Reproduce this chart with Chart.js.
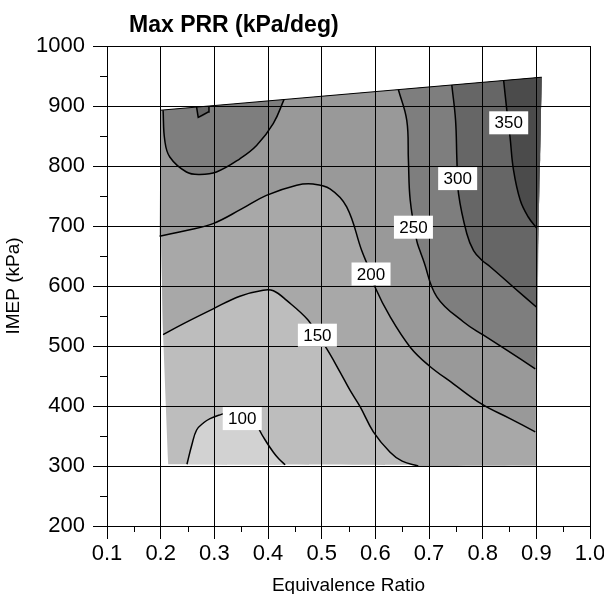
<!DOCTYPE html>
<html>
<head>
<meta charset="utf-8">
<script src="https://cdn.jsdelivr.net/npm/chart.js@4.4.1/dist/chart.umd.min.js"></script>
<style>
  html, body { margin: 0; padding: 0; background: #fff; overflow: hidden; }
  canvas { display: block; }
</style>
</head>
<body>
<canvas id="c" width="604" height="594"></canvas>
<script>
const FONT = '"Liberation Sans", Arial, sans-serif';

// ── data ────────────────────────────────────────────────────────────────────
const xTicks = [0.1, 0.2, 0.3, 0.4, 0.5, 0.6, 0.7, 0.8, 0.9, 1.0];
const yTicks = [200, 300, 400, 500, 600, 700, 800, 900, 1000];
const xMinor = [0.15, 0.25, 0.35, 0.45, 0.55, 0.65, 0.75, 0.85, 0.95];
const yMinor = [250, 350, 450, 550, 650, 750, 850, 950];

// measured region outline: 0 top-left, 1 top-right, 2-3 right edge, 4 bottom-right, 5 bottom-left, 6-7 left edge
const domainX = [0.2, 0.91, 0.907, 0.904, 0.9, 0.214, 0.2045, 0.2015];
const domainY = [893, 948, 810, 696, 301, 303, 519, 654];

// contour lines (Max PRR, kPa/deg)
const c100x = [0.249, 0.258, 0.267, 0.28, 0.292, 0.313, 0.335, 0.355, 0.372, 0.384, 0.397, 0.41, 0.42, 0.432];
const c100y = [303, 335, 360, 372, 379, 386, 392, 393, 385, 360, 340, 323, 312, 302];
const c150x = [0.2045, 0.2418, 0.2978, 0.3476, 0.391, 0.41, 0.4347, 0.475, 0.49, 0.509, 0.534, 0.553, 0.5716, 0.5963, 0.6275, 0.65, 0.68];
const c150y = [519, 537, 562, 583, 593, 592, 576, 543, 520, 496, 457, 426, 399, 357, 323, 308, 300];
const c200x = [0.198, 0.25, 0.2976, 0.35, 0.397, 0.4535, 0.484, 0.5155, 0.5466, 0.5746, 0.59, 0.5995, 0.628, 0.665, 0.699, 0.7455, 0.7985, 0.851, 0.898];
const c200y = [683, 693, 704, 728, 751, 768, 770, 762, 732, 659, 625, 598, 548, 498, 468, 437, 403, 379, 357];
const c250x = [0.643, 0.6586, 0.6616, 0.665, 0.677, 0.683, 0.6895, 0.7146, 0.7644, 0.8016, 0.845, 0.898];
const c250y = [927, 876, 810, 743, 676, 659, 643, 582, 540, 518, 493, 462];
const c250bx = [0.2045, 0.2076, 0.217, 0.248, 0.273, 0.304, 0.3476, 0.3787, 0.41, 0.43];
const c250by = [893, 843, 815, 790, 786, 790, 812, 834, 871, 911];
const c300x = [0.7425, 0.7495, 0.752, 0.755, 0.7705, 0.783, 0.7985, 0.814, 0.8575, 0.9];
const c300y = [935, 876, 810, 754, 687, 659, 643, 632, 598, 565];
const c300bx = [0.2668, 0.27, 0.2885, 0.29];
const c300by = [899, 881, 890, 900];
const c350x = [0.839, 0.845, 0.851, 0.8575, 0.87, 0.885, 0.901];
const c350y = [943, 893, 848, 793, 743, 715, 696];
const topEdgeX = [0.2, 0.91];
const topEdgeY = [893, 948];

// contour labels
const labelText = ['100', '150', '200', '250', '300', '350'];
const labelX = [0.352, 0.492, 0.592, 0.671, 0.7534, 0.8485];
const labelY = [379, 518, 620, 698, 779, 872];

// fill shades, lightest to darkest
const shadeBelow100 = '#d2d2d2';
const shade100 = '#bdbdbd';
const shade150 = '#a8a8a8';
const shade200 = '#999999';
const shade250 = '#7e7e7e';
const shade300 = '#666666';
const shade350 = '#4b4b4b';

// ── helpers ─────────────────────────────────────────────────────────────────
const pts = (xs, ys) => xs.map((x, i) => ({ x, y: ys[i] }));
// doubled points keep the spline straight at corners
const corner = (p) => [p, { ...p }];
const edge = (idx) => idx.flatMap((i) => corner({ x: domainX[i], y: domainY[i] }));
function region(cx, cy, idx) {
    const c = pts(cx, cy);
    return [...corner(c[0]), ...c.slice(1, -1), ...corner(c[c.length - 1]), ...edge(idx)];
}

const fillSet = (data, color, order) => ({
    data, order, fill: 'shape', backgroundColor: color,
    borderColor: 'rgba(0,0,0,0)', borderWidth: 0, pointRadius: 0, tension: 0.4,
});
const lineSet = (xs, ys, width = 1.5, tension = 0.4) => ({
    data: pts(xs, ys), order: 0, fill: false, borderColor: '#000',
    borderWidth: width, pointRadius: 0, tension,
});

const datasets = [
    fillSet(edge([0, 1, 2, 3, 4, 5, 6, 7]), shade100, 100),
    fillSet(region(c100x, c100y, []), shadeBelow100, 90),
    fillSet(region(c150x, c150y, [4, 3, 2, 1, 0, 7]), shade150, 80),
    fillSet(region(c200x, c200y, [3, 2, 1, 0]), shade200, 70),
    fillSet(region(c250x, c250y, [3, 2, 1]), shade250, 60),
    fillSet(region(c250bx, c250by, []), shade250, 60),
    fillSet(region(c300x, c300y, [3, 2, 1]), shade300, 50),
    fillSet(edge([]).concat(pts(c300bx, c300by)), shade300, 50),
    fillSet(region(c350x, c350y, [2, 1]), shade350, 40),
    lineSet(c100x, c100y),
    lineSet(c150x, c150y),
    lineSet(c200x, c200y),
    lineSet(c250x, c250y),
    lineSet(c250bx, c250by),
    lineSet(c300x, c300y),
    lineSet(c300bx, c300by, 1.5, 0),
    lineSet(c350x, c350y),
    lineSet(topEdgeX, topEdgeY, 1, 0),
];

// grid on top of the shading, minor ticks, boxed contour labels, title
const overlay = {
    id: 'overlay',
    afterDatasetsDraw(chart) {
        const { ctx, chartArea: a, scales: { x, y } } = chart;
        x.drawGrid(a);
        y.drawGrid(a);
        ctx.save();
        ctx.strokeStyle = '#000';
        ctx.lineWidth = 1;
        ctx.beginPath();
        xMinor.forEach((v) => {
            const px = Math.round(x.getPixelForValue(v)) + 0.5;
            ctx.moveTo(px, a.bottom);
            ctx.lineTo(px, a.bottom + 6);
        });
        yMinor.forEach((v) => {
            const py = Math.round(y.getPixelForValue(v)) + 0.5;
            ctx.moveTo(a.left - 7, py);
            ctx.lineTo(a.left, py);
        });
        ctx.stroke();

        ctx.font = '17px ' + FONT;
        ctx.textAlign = 'center';
        ctx.textBaseline = 'middle';
        labelText.forEach((t, i) => {
            const px = x.getPixelForValue(labelX[i]);
            const py = y.getPixelForValue(labelY[i]);
            ctx.fillStyle = '#fff';
            ctx.fillRect(px - 19.5, py - 11.5, 39, 23);
            ctx.fillStyle = '#000';
            ctx.fillText(t, px, py + 1);
        });
        ctx.restore();
    },
    afterDraw(chart) {
        const { ctx, chartArea: a } = chart;
        ctx.save();
        ctx.font = 'bold 23px ' + FONT;
        ctx.fillStyle = '#000';
        ctx.textAlign = 'left';
        ctx.textBaseline = 'alphabetic';
        ctx.fillText('Max PRR (kPa/deg)', a.left + 22, 31.5);
        ctx.restore();
    },
};

const axisLines = { color: '#000', lineWidth: 1, tickColor: '#000', tickWidth: 1 };

new Chart(document.getElementById('c'), {
    type: 'line',
    data: { datasets },
    plugins: [overlay],
    options: {
        responsive: false,
        animation: false,
        events: [],
        layout: { padding: { top: 46, right: 14, bottom: 0, left: 0 } },
        plugins: { legend: { display: false }, tooltip: { enabled: false }, title: { display: false } },
        scales: {
            x: {
                type: 'linear', min: xTicks[0], max: xTicks[xTicks.length - 1],
                afterFit(s) { s.height = 68; s.paddingRight = 0; s.paddingLeft = 0; },
                afterBuildTicks(s) { s.ticks = xTicks.map((value) => ({ value })); },
                ticks: {
                    autoSkip: false, maxRotation: 0, padding: 2, color: '#000',
                    font: { family: FONT, size: 22 },
                    callback: (v) => Number(v).toFixed(1),
                },
                grid: { ...axisLines, tickLength: 13 },
                border: { color: '#000', width: 1 },
                title: {
                    display: true, text: 'Equivalence Ratio', color: '#000',
                    font: { family: FONT, size: 19 }, padding: { top: 0, bottom: -3 },
                },
            },
            y: {
                type: 'linear', min: yTicks[0], max: yTicks[yTicks.length - 1],
                afterFit(s) { s.width = 107; },
                afterBuildTicks(s) { s.ticks = yTicks.map((value) => ({ value })); },
                ticks: {
                    autoSkip: false, padding: 8, color: '#000',
                    font: { family: FONT, size: 22 },
                    callback: (v) => String(v),
                },
                grid: { ...axisLines, tickLength: 14 },
                border: { color: '#000', width: 1 },
                title: {
                    display: true, text: 'IMEP (kPa)', color: '#000',
                    font: { family: FONT, size: 19 }, padding: { top: 2, bottom: 0 },
                },
            },
        },
    },
});
</script>
</body>
</html>
